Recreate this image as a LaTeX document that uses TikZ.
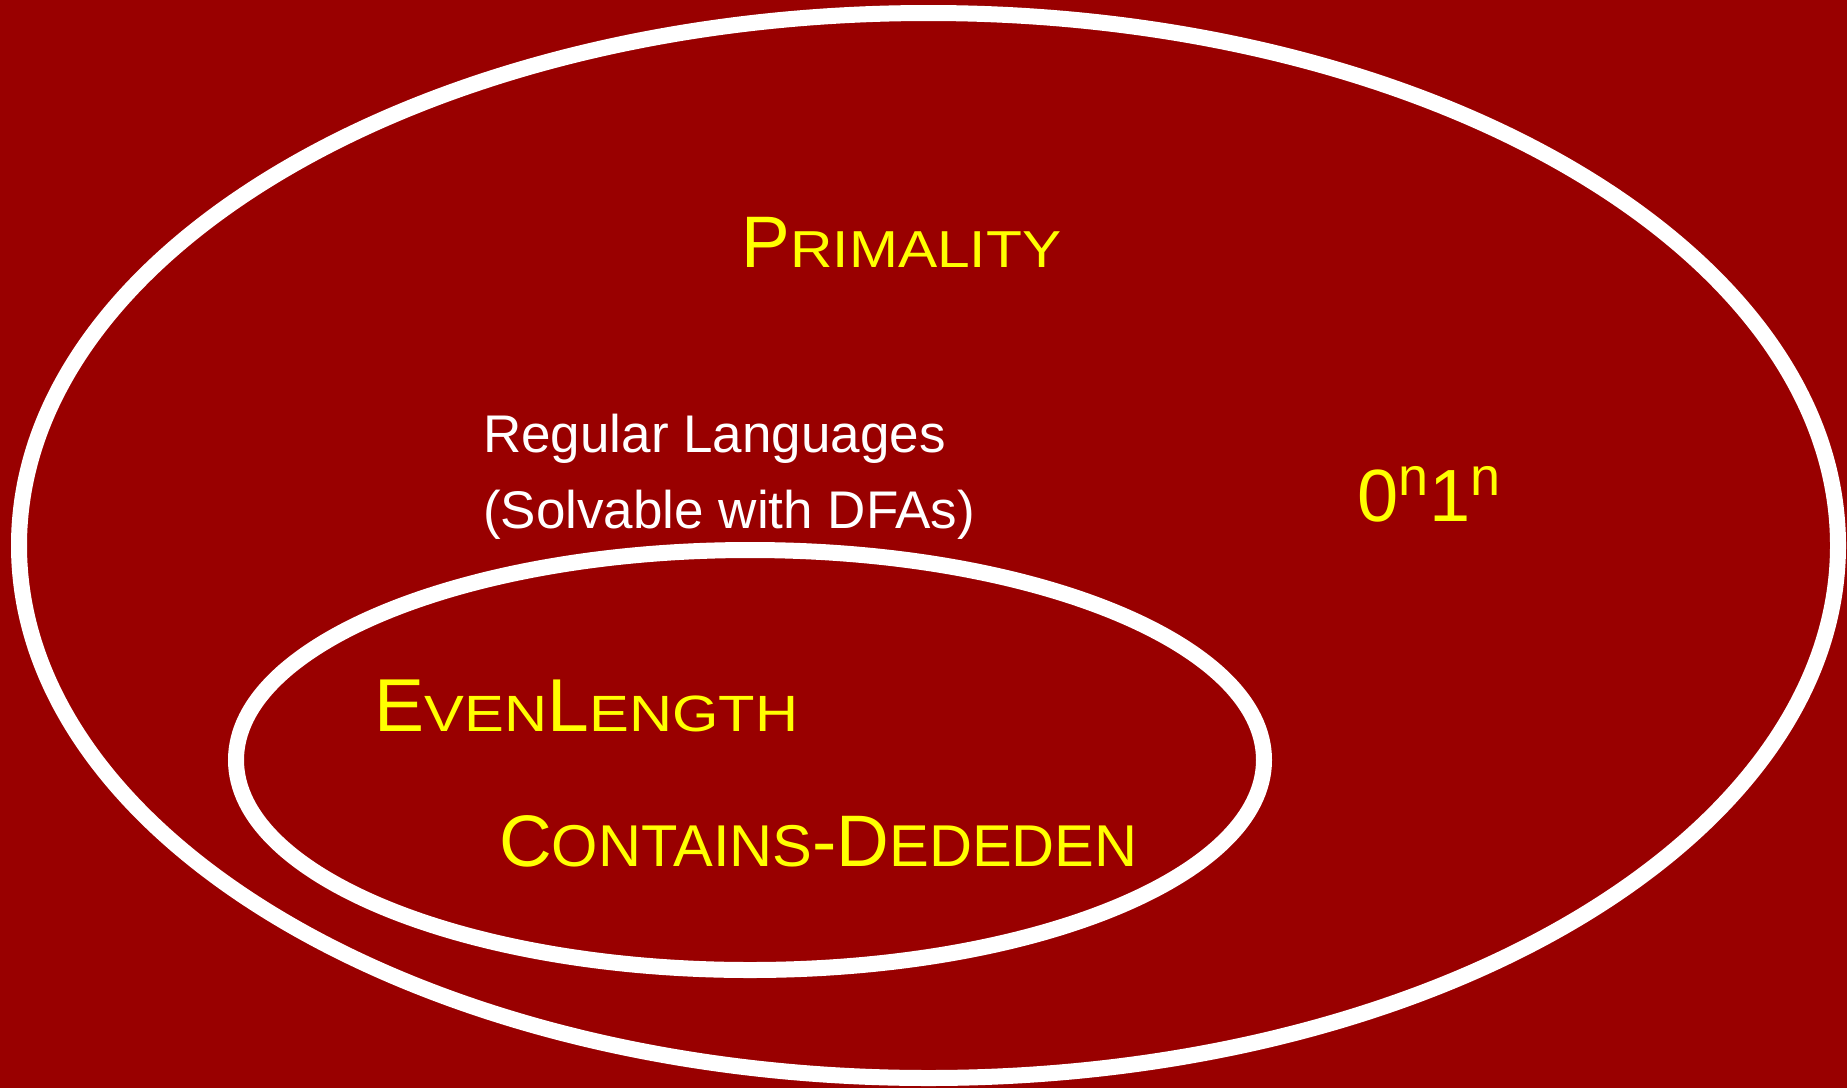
\documentclass[tikz,border=0pt]{standalone}
\usepackage{fontspec}
\setmainfont{Liberation Sans}
\definecolor{bgred}{RGB}{153,0,0}
\definecolor{ylw}{RGB}{255,255,0}
\newcommand{\smc}[3]{\scalebox{#2}[1]{\fontsize{#1}{#1}\selectfont #3}}
\begin{document}
\begin{tikzpicture}[x=1pt,y=-1pt,
  ring/.style={draw=white,line width=16pt},
  ylab/.style={text=ylw,inner sep=0pt,anchor=base},
  wlab/.style={text=white,inner sep=0pt,anchor=base west,align=left,font=\fontsize{53}{76}\selectfont}]
\fill[bgred] (0,0) rectangle (1847,1088);
\useasboundingbox (0,0) rectangle (1847,1088);
\draw[ring] (928.5,545.5) ellipse [x radius=909.5, y radius=532.5];
\draw[ring] (750,760) ellipse [x radius=514, y radius=210];
\node[ylab] (prim) at (901.5,267) {\fontsize{73}{73}\selectfont P\smc{52}{1.13}{RIMALITY}};
\node[wlab] (reg) at (483,528) {Regular Languages\\(Solvable with DFAs)};
\node[ylab] (onon) at (1429,521) {\fontsize{74}{74}\selectfont 0\raisebox{26pt}{\fontsize{54}{54}\selectfont n}1\raisebox{26pt}{\fontsize{54}{54}\selectfont n}};
\node[ylab] (even) at (586.5,731) {\fontsize{75}{75}\selectfont E\smc{51}{1.17}{VEN}L\smc{51}{1.17}{ENGTH}};
\node[ylab] (cont) at (818.5,866) {\fontsize{73}{73}\selectfont C\smc{59}{1.01}{ONTAINS}-D\smc{59}{1.01}{EDEDEN}};
\end{tikzpicture}
\end{document}
